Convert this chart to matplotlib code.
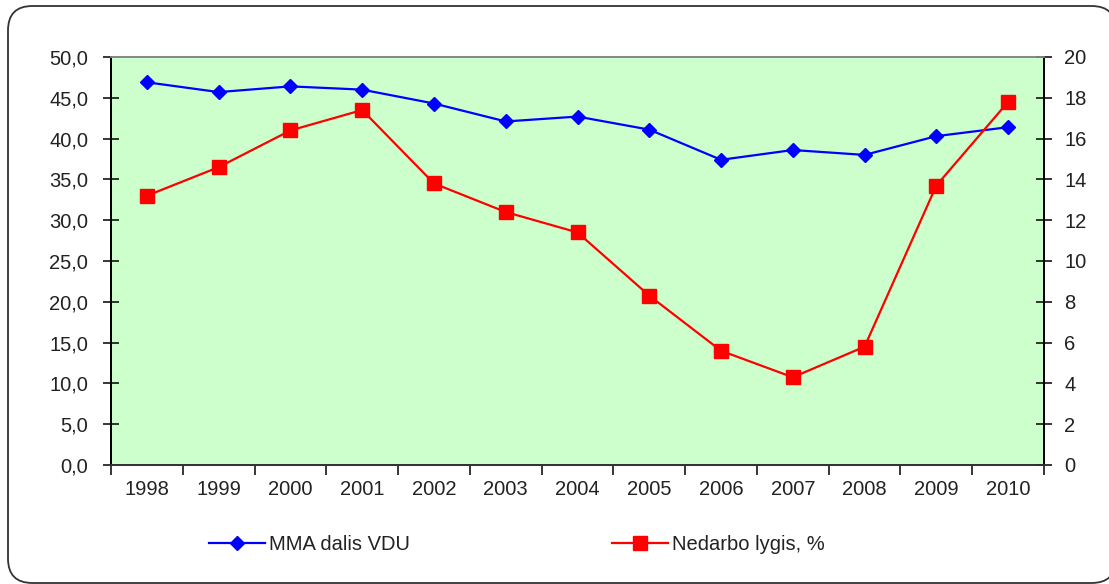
import matplotlib
matplotlib.use("Agg")
import matplotlib.pyplot as plt
from matplotlib.patches import FancyBboxPatch
from matplotlib.ticker import FuncFormatter, FixedLocator
import numpy as np

years = ["1998", "1999", "2000", "2001", "2002", "2003", "2004",
         "2005", "2006", "2007", "2008", "2009", "2010"]
mma = [46.9, 45.7, 46.4, 46.0, 44.3, 42.1, 42.7, 41.1, 37.4, 38.6, 38.0, 40.3, 41.4]
nedarbo = [13.2, 14.6, 16.4, 17.4, 13.8, 12.4, 11.4, 8.3, 5.6, 4.3, 5.8, 13.7, 17.8]

plt.rcParams['font.family'] = ['Liberation Sans', 'DejaVu Sans']
FS = 14.5
W, H = 1109, 584

fig = plt.figure(figsize=(W / 100, H / 100), dpi=100)
x0, y0, x1, y1 = 8, 1, 1116, 578  # pixel box of the frame (from bottom)
frame = FancyBboxPatch((x0 / W, y0 / H), (x1 - x0) / W, (y1 - y0) / H,
                       boxstyle="round,pad=0,rounding_size=0.022",
                       transform=fig.transFigure, facecolor='white', edgecolor='#333333',
                       linewidth=1.3, mutation_aspect=W / H, zorder=-10)
fig.patches.append(frame)

ax = fig.add_axes([0.1001, 0.2038, 0.8413, 0.6986])
ax.set_facecolor('#CCFFCC')
x = np.arange(len(years))
l1, = ax.plot(x, mma, color='#0000FF', lw=1.6, marker='D', markersize=7,
              label='MMA dalis VDU', zorder=3)
ax.set_xlim(-0.5, len(years) - 0.5)
ax.set_ylim(0, 50)
ax.set_yticks(np.arange(0, 51, 5))
ax.yaxis.set_major_formatter(FuncFormatter(lambda v, p: f"{v:.1f}".replace('.', ',')))
ax.xaxis.set_major_locator(FixedLocator(np.arange(-0.5, len(years), 1.0)))
ax.xaxis.set_minor_locator(FixedLocator(x))
ax.set_xticklabels([])
ax.set_xticklabels(years, minor=True)
ax.tick_params(axis='x', which='major', length=7, width=1.1, direction='out')
ax.tick_params(axis='x', which='minor', length=0, pad=11, labelsize=FS, colors='#222222')
ax.tick_params(axis='y', length=11, width=1.1, direction='inout', labelsize=FS,
               labelcolor='#222222', pad=11)

ax2 = ax.twinx()
l2, = ax2.plot(x, nedarbo, color='#FF0000', lw=1.6, marker='s', markersize=10,
               label='Nedarbo lygis, %', zorder=3)
ax2.set_ylim(0, 20)
ax2.set_yticks(np.arange(0, 21, 2))
ax2.tick_params(axis='y', length=11, width=1.1, direction='inout', labelsize=FS,
                labelcolor='#222222', pad=9)

for a in (ax, ax2):
    a.spines['top'].set_color('#888888')
    a.spines['left'].set_color('black')
    a.spines['right'].set_color('black')
    a.spines['bottom'].set_color('#333333')
    for s in a.spines.values():
        s.set_linewidth(1.3)

fig.legend(handles=[l1, l2], loc='center', bbox_to_anchor=(0.466, 0.068), ncol=2,
           frameon=False, fontsize=FS, handlelength=2.8, handletextpad=0.2,
           columnspacing=10.0, labelcolor='#222222')

fig.savefig('out.png', dpi=100)
